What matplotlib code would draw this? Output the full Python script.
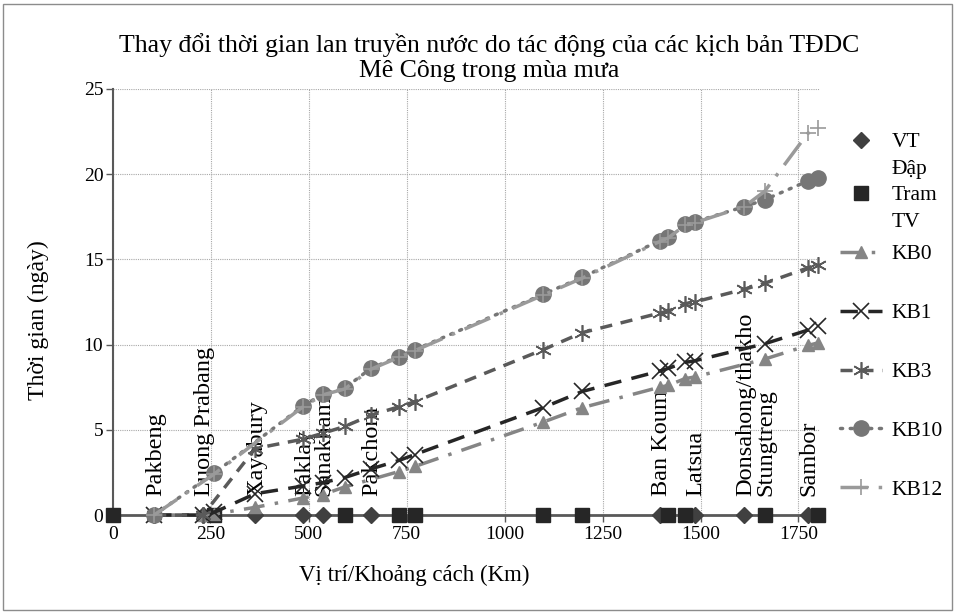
import numpy as np
import matplotlib.pyplot as plt
from matplotlib.lines import Line2D
from matplotlib.patches import Rectangle

plt.rcParams['font.family'] = ['Liberation Serif', 'DejaVu Serif']

# vi tri dap va tram thuy van (km)
km_dap = [105, 230, 363, 485, 536, 658, 1396, 1485, 1612, 1774]
ten_dap = ['Pakbeng', 'Luong Prabang', 'Xayabury', 'Paklay', 'Sanakham',
           'Pakchom', 'Ban Koum', 'Latsua', 'Donsahong/thakho', 'Sambor']
km_tram = [0, 258, 592, 730, 771, 1098, 1198, 1417, 1460, 1664, 1800]
ten_tram = {1664: 'Stungtreng'}

# thoi gian lan truyen (ngay) theo kich ban
km_kb0 = [105, 230, 258, 363, 485, 536, 592, 730, 771, 1098, 1198, 1396, 1417, 1460, 1485, 1664, 1774, 1800]
kb0 = [0, 0, 0.05, 0.45, 1.0, 1.2, 1.65, 2.55, 2.85, 5.45, 6.3, 7.5, 7.6, 8.0, 8.1, 9.15, 9.95, 10.1]

km_kb1 = [105, 230, 258, 363, 485, 536, 592, 658, 730, 771, 1098, 1198, 1396, 1417, 1460, 1485, 1664, 1774, 1800]
kb1 = [0, 0, 0.15, 1.25, 1.7, 1.9, 2.2, 2.7, 3.2, 3.55, 6.3, 7.25, 8.45, 8.6, 8.95, 9.05, 10.05, 10.85, 11.1]

km_kb3 = [105, 230, 363, 485, 536, 592, 658, 730, 771, 1098, 1198, 1396, 1417, 1460, 1485, 1612, 1664, 1774, 1800]
kb3 = [0, 0, 3.9, 4.45, 4.8, 5.2, 5.85, 6.35, 6.65, 9.7, 10.7, 11.85, 11.95, 12.4, 12.5, 13.25, 13.6, 14.5, 14.7]

km_kb10 = [105, 258, 485, 536, 592, 658, 730, 771, 1098, 1198, 1396, 1417, 1460, 1485, 1612, 1664, 1774, 1800]
kb10 = [0, 2.45, 6.4, 7.1, 7.45, 8.6, 9.3, 9.7, 12.95, 13.95, 16.1, 16.3, 17.05, 17.2, 18.1, 18.5, 19.6, 19.8]

km_kb12 = [105, 258, 485, 536, 592, 658, 730, 771, 1098, 1198, 1396, 1417, 1460, 1485, 1612, 1664, 1774, 1800]
kb12 = [0, 2.4, 6.35, 7.05, 7.4, 8.55, 9.25, 9.65, 12.9, 13.9, 16.05, 16.25, 17.0, 17.15, 18.1, 19.0, 22.4, 22.7]

fig = plt.figure(figsize=(9.56, 6.15), dpi=100)
ax = fig.add_axes([0.1182, 0.1626, 0.7395, 0.6927])

h_dap, = ax.plot(km_dap, np.zeros(len(km_dap)), ls='none', marker='D', ms=8, color='#404040',
                 clip_on=False, zorder=4)
h_tram, = ax.plot(km_tram, np.zeros(len(km_tram)), ls='none', marker='s', ms=10, color='#262626',
                  clip_on=False, zorder=4)
h0, = ax.plot(km_kb0, kb0, color='#858585', lw=2.5, ls=(0, (6, 3, 1, 3)), marker='^', ms=9,
              clip_on=False, zorder=5)
h1, = ax.plot(km_kb1, kb1, color='#262626', lw=2.5, ls=(0, (5, 3)), marker='x', ms=11, mew=1.2,
              clip_on=False, zorder=5)
h3, = ax.plot(km_kb3, kb3, color='#5a5a5a', lw=2.5, ls=(0, (3.5, 2.5)), marker=(6, 2, 0), ms=12,
              mew=1.2, clip_on=False, zorder=5)
h10, = ax.plot(km_kb10, kb10, color='#767676', lw=2.5, ls=(0, (0.6, 2.2)), dash_capstyle='round',
               marker='o', ms=11, clip_on=False, zorder=5)
h12, = ax.plot(km_kb12, kb12, color='#9a9a9a', lw=2.5, ls=(0, (8, 3, 1, 3)), marker='+', ms=12,
               mew=1.2, clip_on=False, zorder=5)

# nhan ten dap / tram
for x, t in list(zip(km_dap, ten_dap)) + list(ten_tram.items()):
    ax.annotate(t, (x, 0), xytext=(1, 14), textcoords='offset points', rotation=90,
                ha='center', va='bottom', fontsize=17.5, zorder=3)

ax.set_xlim(0, 1805)
ax.set_ylim(0, 25)
ax.set_xticks(np.arange(0, 1751, 250))
ax.set_yticks(np.arange(0, 26, 5))
ax.tick_params(labelsize=14, color='#595959', length=5, width=1)
ax.tick_params(axis='x', pad=3)
ax.tick_params(axis='y', pad=2)
ax.grid(color='#a8a8a8', ls=(0, (1, 1)), lw=0.8)
ax.set_axisbelow(True)
for s in ['top', 'right']:
    ax.spines[s].set_visible(False)
ax.spines['left'].set_color('#595959')
ax.spines['left'].set_linewidth(1.5)
ax.spines['bottom'].set_color('#595959')
ax.spines['bottom'].set_linewidth(2)

fig.text(0.5115, 1 - 57.5 / 615,
         'Thay đổi thời gian lan truyền nước do tác động của các kịch bản TĐDC\nMê Công trong mùa mưa',
         ha='center', va='center', fontsize=18.5)
fig.text(38 / 956, 1 - 320 / 615, 'Thời gian (ngày)', rotation=90, ha='center', va='center',
         fontsize=17)
fig.text(414 / 956, 1 - 575 / 615, 'Vị trí/Khoảng cách (Km)', ha='center', va='center',
         fontsize=16.5)

# chu thich: hai nhan hai dong o tren, cac kich ban o duoi
blank = Line2D([], [], color='none')
leg_kw = dict(loc='center left', frameon=False, fontsize=15.5, borderpad=0, borderaxespad=0,
              handlelength=1.95, handletextpad=0.45, numpoints=1)
fig.legend([h_dap, blank, h_tram, blank], ['VT', 'Đập', 'Tram', 'TV'],
           bbox_to_anchor=(840 / 956, 1 - 182 / 615), labelspacing=0.3, **leg_kw)
fig.legend([h0, h1, h3, h10, h12], ['KB0', 'KB1', 'KB3', 'KB10', 'KB12'],
           bbox_to_anchor=(840 / 956, 1 - 372 / 615), labelspacing=1.8, **leg_kw)

fig.patches.append(Rectangle((3 / 956, 5 / 615), 949 / 956, 606 / 615, transform=fig.transFigure,
                             fill=False, edgecolor='#8c8c8c', lw=1))

fig.savefig('out.png', dpi=100)
